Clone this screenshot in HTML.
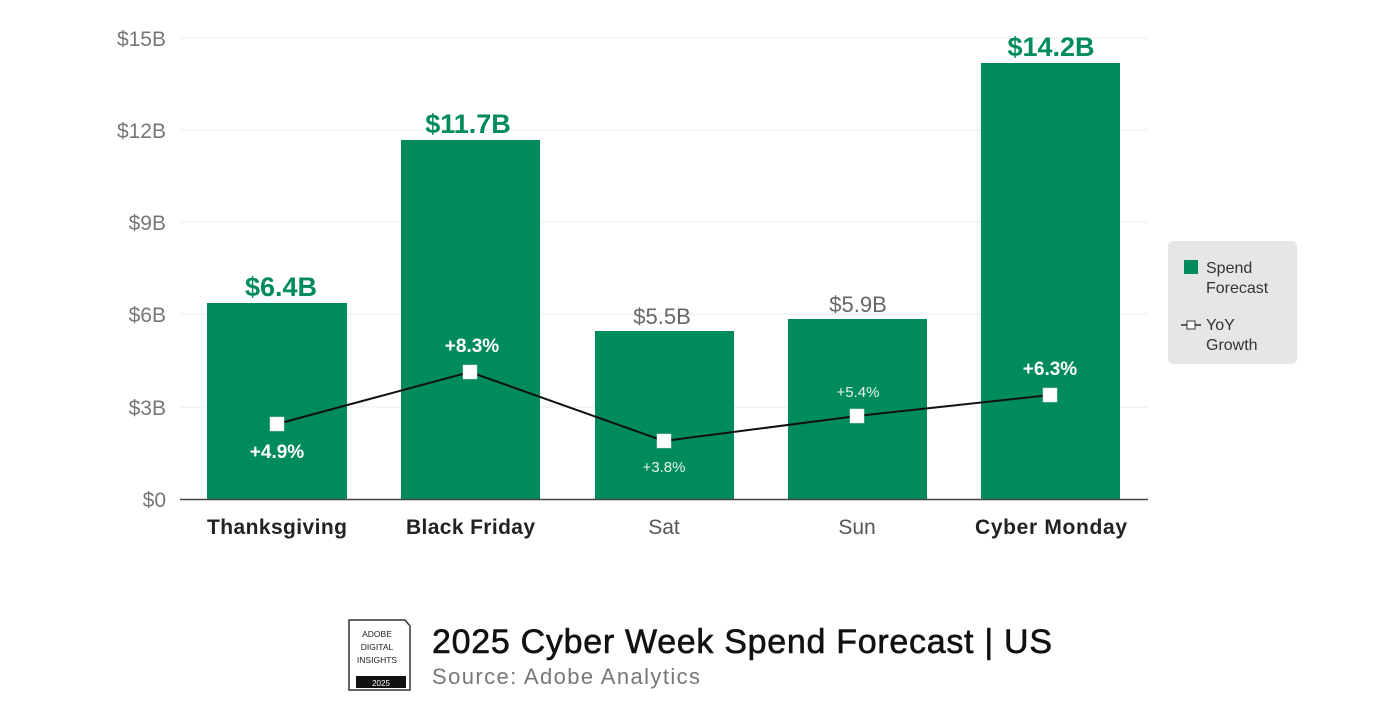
<!DOCTYPE html>
<html><head><meta charset="utf-8"><style>
body{margin:0;width:1400px;height:700px;background:#fff;overflow:hidden;font-family:"Liberation Sans",sans-serif}
</style></head><body>
<svg width="1400" height="700" viewBox="0 0 1400 700" xmlns="http://www.w3.org/2000/svg" font-family="Liberation Sans, sans-serif">
<g stroke="#eeeeee" stroke-width="1">
<line x1="180" y1="38" x2="1148" y2="38"/><line x1="180" y1="130" x2="1148" y2="130"/>
<line x1="180" y1="222" x2="1148" y2="222"/><line x1="180" y1="314" x2="1148" y2="314"/>
<line x1="180" y1="407" x2="1148" y2="407"/>
</g>
<g fill="#777" font-size="21" text-anchor="end">
<text x="166" y="46">$15B</text><text x="166" y="138">$12B</text><text x="166" y="230">$9B</text>
<text x="166" y="322">$6B</text><text x="166" y="415">$3B</text><text x="166" y="507">$0</text>
</g>
<g fill="#008c5a">
<rect x="207" y="303" width="140" height="196"/>
<rect x="401" y="140" width="139" height="359"/>
<rect x="595" y="331" width="139" height="168"/>
<rect x="788" y="319" width="139" height="180"/>
<rect x="981" y="63" width="139" height="436"/>
</g>
<line x1="180" y1="499.5" x2="1148" y2="499.5" stroke="#444" stroke-width="1.5"/>
<g text-anchor="middle" font-size="27" font-weight="bold" fill="#008c5a">
<text x="281" y="296">$6.4B</text><text x="468" y="133">$11.7B</text><text x="1051" y="56">$14.2B</text>
</g>
<g text-anchor="middle" font-size="22" fill="#666">
<text x="662" y="324">$5.5B</text><text x="858" y="312">$5.9B</text>
</g>
<polyline points="277,424 470,372 664,441 857,416 1050,395" fill="none" stroke="#111" stroke-width="2"/>
<g fill="#fff" stroke="#ddd" stroke-width="0.5">
<rect x="270" y="417" width="14" height="14"/><rect x="463" y="365" width="14" height="14"/>
<rect x="657" y="434" width="14" height="14"/><rect x="850" y="409" width="14" height="14"/>
<rect x="1043" y="388" width="14" height="14"/>
</g>
<g text-anchor="middle" fill="#fff">
<text x="277" y="458" font-size="19" font-weight="bold">+4.9%</text>
<text x="472" y="352" font-size="19" font-weight="bold">+8.3%</text>
<text x="664" y="472" font-size="15" fill="#e6f3ec">+3.8%</text>
<text x="858" y="397" font-size="15" fill="#e6f3ec">+5.4%</text>
<text x="1050" y="375" font-size="19" font-weight="bold">+6.3%</text>
</g>
<g font-size="21" fill="#222">
<text x="207" y="534" font-weight="bold" textLength="140">Thanksgiving</text>
<text x="406" y="534" font-weight="bold" textLength="129">Black Friday</text>
<text x="664" y="534" fill="#555" text-anchor="middle">Sat</text>
<text x="857" y="534" fill="#555" text-anchor="middle">Sun</text>
<text x="975" y="534" font-weight="bold" textLength="152">Cyber Monday</text>
</g>
<rect x="1168" y="241" width="129" height="123" rx="5" fill="#e6e6e6"/>
<rect x="1184" y="260" width="14" height="14" fill="#008c5a"/>
<g font-size="16" fill="#333"><text x="1206" y="273">Spend</text><text x="1206" y="293">Forecast</text>
<text x="1206" y="330">YoY</text><text x="1206" y="350">Growth</text></g>
<line x1="1181" y1="325" x2="1201" y2="325" stroke="#333" stroke-width="1.5"/>
<rect x="1187" y="321" width="8" height="8" fill="#fff" stroke="#333"/>
<path d="M349 620 H405 L410 626 V690 H349 Z" fill="#fff" stroke="#333" stroke-width="1.5"/>
<rect x="356" y="676" width="50" height="12" fill="#111"/>
<g font-size="8.5" fill="#222" text-anchor="middle"><text x="377" y="637">ADOBE</text><text x="377" y="650">DIGITAL</text><text x="377" y="663">INSIGHTS</text></g>
<text x="381" y="686" font-size="8" fill="#fff" text-anchor="middle">2025</text>
<text x="432" y="653" font-size="34" fill="#111" textLength="620" stroke="#111" stroke-width="0.6">2025 Cyber Week Spend Forecast | US</text>
<text x="432" y="684" font-size="22" fill="#777" textLength="268">Source: Adobe Analytics</text>
</svg>
</body></html>
